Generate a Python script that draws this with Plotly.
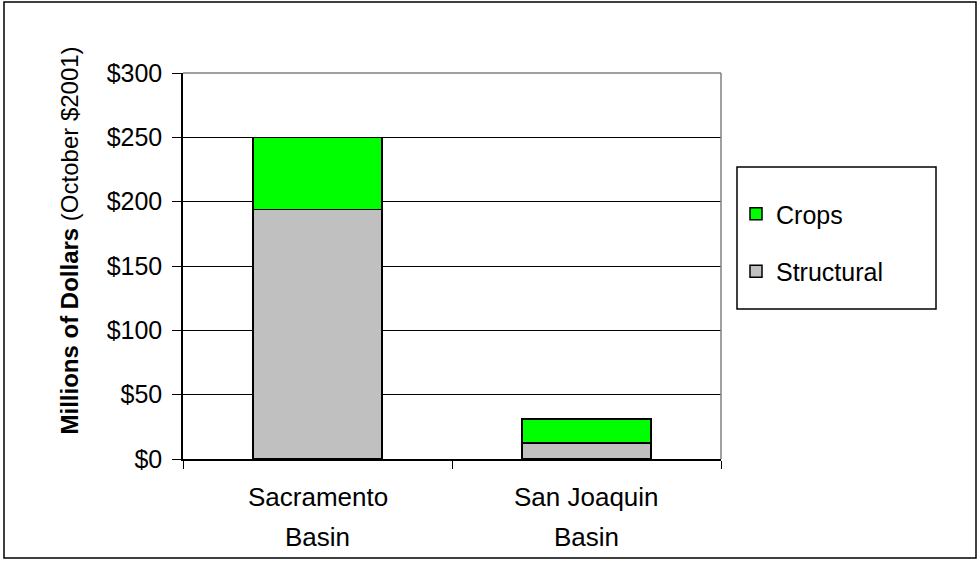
import plotly.graph_objects as go

# values (millions of dollars, October $2001)
basins = ["Sacramento Basin", "San Joaquin Basin"]
label_top = ["Sacramento", "San Joaquin"]
label_bottom = ["Basin", "Basin"]
structural = [194, 12.5]
crops = [56, 18.75]
y_ticks = [0, 50, 100, 150, 200, 250, 300]
y_tick_text = ["$0", "$50", "$100", "$150", "$200", "$250", "$300"]

FONT = "Arial, Liberation Sans, sans-serif"

# plot area in pixels (980 x 562 page)
L, R, T, B = 183, 721, 73, 459
W, H = 980, 562


def px_x(x):
    return (x - L) / (R - L)


def px_y(y):
    return (B - y) / (B - T)


fig = go.Figure()

fig.add_trace(go.Bar(x=basins, y=structural, name="Structural",
                     legendgroup="s", legendrank=2,
                     marker=dict(color="#c0c0c0",
                                 line=dict(color="black", width=1.5))))
fig.add_trace(go.Bar(x=basins, y=crops, name="Crops",
                     legendgroup="c", legendrank=1,
                     marker=dict(color="#00ff00",
                                 line=dict(color="black", width=1.5))))

# outer chart border and legend box
fig.add_shape(type="rect", xref="paper", yref="paper",
              x0=px_x(4), x1=px_x(976), y0=px_y(558), y1=px_y(2),
              line=dict(color="black", width=1.5))
fig.add_shape(type="rect", xref="paper", yref="paper",
              x0=px_x(737), x1=px_x(936), y0=px_y(309), y1=px_y(167),
              line=dict(color="black", width=1.5))
# grey plot-area border on top and right
fig.add_shape(type="line", xref="paper", yref="paper",
              x0=0, x1=1, y0=1, y1=1, layer="above",
              line=dict(color="#808080", width=1.5))
fig.add_shape(type="line", xref="paper", yref="paper",
              x0=1, x1=1, y0=0, y1=1, layer="above",
              line=dict(color="#808080", width=1.5))

# category labels with the wide Excel line spacing
for b, top, bot in zip(basins, label_top, label_bottom):
    fig.add_annotation(x=b, xref="x", y=0, yref="paper", yshift=-38,
                       text=top, showarrow=False, yanchor="middle",
                       font=dict(family=FONT, size=26, color="black"))
    fig.add_annotation(x=b, xref="x", y=0, yref="paper", yshift=-78,
                       text=bot, showarrow=False, yanchor="middle",
                       font=dict(family=FONT, size=26, color="black"))

fig.add_annotation(x=px_x(53), y=px_y(241), xref="paper", yref="paper",
                   text="<b>Millions of Dollars</b> (October $2001)",
                   textangle=-90, showarrow=False,
                   font=dict(family=FONT, size=24, color="black"))

fig.update_layout(
    width=W, height=H,
    margin=dict(l=L, r=W - R, t=T, b=H - B),
    barmode="stack",
    bargap=0.52,
    plot_bgcolor="white",
    paper_bgcolor="white",
    font=dict(family=FONT, size=24, color="black"),
    showlegend=True,
    legend=dict(x=px_x(736), y=px_y(191), xanchor="left", yanchor="top",
                traceorder="grouped", tracegroupgap=22,
                bgcolor="rgba(0,0,0,0)", borderwidth=0,
                font=dict(family=FONT, size=25, color="black")),
    xaxis=dict(showticklabels=False, ticks="outside", tickson="boundaries",
               ticklen=8, tickcolor="black", showline=True,
               linecolor="black", linewidth=1.5, showgrid=False),
    yaxis=dict(range=[0, 300], tickmode="array", tickvals=y_ticks,
               ticktext=y_tick_text,
               ticks="outside", ticklen=9, tickcolor="black",
               ticklabelstandoff=5,
               tickfont=dict(family=FONT, size=25, color="black"),
               showline=True, linecolor="black", linewidth=1.5,
               showgrid=True, gridcolor="black", gridwidth=1,
               zeroline=False),
)

fig.write_html("out.html", config={"displayModeBar": False},
               post_script="document.body.style.margin='0';")
